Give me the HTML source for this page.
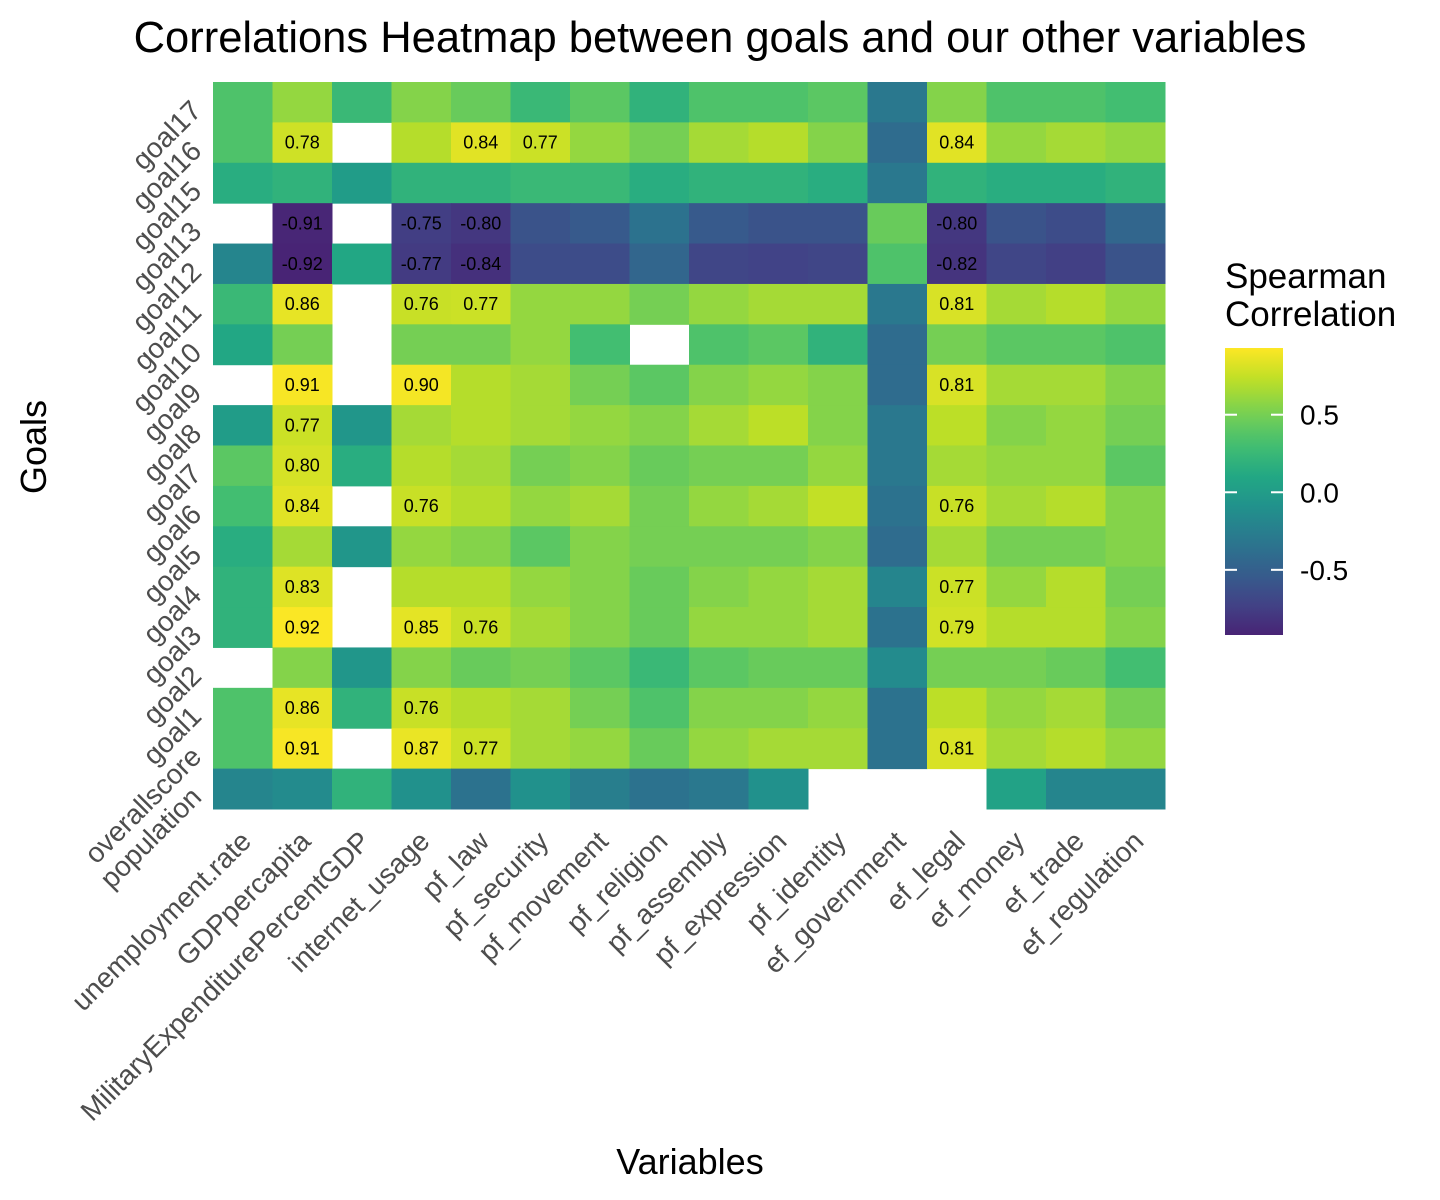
<!DOCTYPE html>
<html><head><meta charset="utf-8"><style>
body{margin:0;background:#fff;}
svg{display:block;font-family:"Liberation Sans",Arial,sans-serif;}
</style></head><body>
<svg id="chart" width="1440" height="1200" viewBox="0 0 1440 1200">
<defs><linearGradient id="vg" x1="0" y1="1" x2="0" y2="0" id2="">
</linearGradient></defs>
<text x="720" y="52" text-anchor="middle" font-size="43.5" fill="#000">Correlations Heatmap between goals and our other variables</text>
<text x="46" y="447" text-anchor="middle" font-size="36" transform="rotate(-90 46 447)">Goals</text>
<text x="690" y="1174" text-anchor="middle" font-size="36">Variables</text>
<g id="cells"></g><g id="xlabels"></g><g id="ylabels"></g>
<g>
<text x="1225" y="288" font-size="35">Spearman</text>
<text x="1225" y="326" font-size="35">Correlation</text>
<rect x="1225" y="348" width="58" height="287" fill="url(#vg)"/>
<g id="legticks"></g>
</g>
</svg>
<script>
const variables=["unemployment.rate","GDPpercapita","MilitaryExpenditurePercentGDP","internet_usage","pf_law","pf_security","pf_movement","pf_religion","pf_assembly","pf_expression","pf_identity","ef_government","ef_legal","ef_money","ef_trade","ef_regulation"];
const goals=["goal17","goal16","goal15","goal13","goal12","goal11","goal10","goal9","goal8","goal7","goal6","goal5","goal4","goal3","goal2","goal1","overallscore","population"];
const values=[
[0.35,0.6,0.25,0.55,0.45,0.25,0.4,0.2,0.35,0.35,0.4,-0.3,0.55,0.35,0.35,0.3],
[0.35,0.78,null,0.7,0.84,0.77,0.6,0.5,0.65,0.7,0.55,-0.4,0.84,0.6,0.65,0.6],
[0.15,0.2,0.0,0.2,0.2,0.25,0.25,0.15,0.2,0.2,0.15,-0.3,0.2,0.15,0.15,0.2],
[null,-0.91,null,-0.75,-0.80,-0.6,-0.55,-0.35,-0.55,-0.6,-0.6,0.45,-0.80,-0.6,-0.65,-0.45],
[-0.2,-0.92,0.1,-0.77,-0.84,-0.65,-0.65,-0.45,-0.7,-0.72,-0.7,0.35,-0.82,-0.7,-0.74,-0.6],
[0.25,0.86,null,0.76,0.77,0.6,0.6,0.5,0.6,0.65,0.65,-0.3,0.81,0.65,0.7,0.6],
[0.1,0.5,null,0.5,0.5,0.6,0.3,null,0.35,0.4,0.2,-0.4,0.5,0.4,0.4,0.35],
[null,0.91,null,0.90,0.7,0.65,0.5,0.4,0.55,0.6,0.55,-0.4,0.81,0.65,0.65,0.55],
[0.0,0.77,-0.05,0.65,0.7,0.65,0.6,0.55,0.65,0.72,0.55,-0.3,0.72,0.55,0.6,0.5],
[0.4,0.80,0.15,0.7,0.65,0.5,0.55,0.45,0.5,0.5,0.6,-0.3,0.65,0.6,0.6,0.4],
[0.3,0.84,null,0.76,0.7,0.6,0.65,0.5,0.6,0.65,0.74,-0.35,0.76,0.65,0.7,0.55],
[0.15,0.65,-0.05,0.6,0.55,0.4,0.55,0.5,0.5,0.5,0.55,-0.4,0.65,0.5,0.5,0.55],
[0.2,0.83,null,0.7,0.7,0.6,0.55,0.45,0.55,0.6,0.65,-0.2,0.77,0.6,0.7,0.5],
[0.2,0.92,null,0.85,0.76,0.65,0.55,0.45,0.6,0.6,0.65,-0.35,0.79,0.7,0.7,0.55],
[null,0.55,-0.05,0.55,0.45,0.5,0.4,0.25,0.4,0.45,0.45,-0.15,0.5,0.5,0.45,0.3],
[0.35,0.86,0.2,0.76,0.7,0.65,0.5,0.35,0.55,0.55,0.6,-0.35,0.72,0.6,0.65,0.5],
[0.35,0.91,null,0.87,0.77,0.65,0.6,0.45,0.6,0.65,0.65,-0.35,0.81,0.65,0.7,0.6],
[-0.2,-0.15,0.2,-0.1,-0.35,-0.1,-0.25,-0.35,-0.3,-0.1,null,null,null,0.05,-0.2,-0.2]
];
const legendTicks=[0.5,0.0,-0.5];
const legendLabels=["0.5","0.0","-0.5"];
const vmin=-0.92,vmax=0.93;
const X0=213,X1=1165,Y0=82,Y1=809;
const cw=(X1-X0)/variables.length, ch=(Y1-Y0)/goals.length;
const xScale=i=>X0+i*cw, yScale=j=>Y0+j*ch;
const stops=["#440154","#482475","#414487","#355f8d","#2a788e","#21918c","#22a884","#44bf70","#7ad151","#bddf26","#fde725"];
function hex(h){return [1,3,5].map(k=>parseInt(h.substr(k,2),16));}
function vir(t){t=Math.max(0,Math.min(1,t));const p=t*(stops.length-1),i=Math.min(Math.floor(p),stops.length-2),f=p-i;const a=hex(stops[i]),b=hex(stops[i+1]);return "rgb("+a.map((c,k)=>Math.round(c+(b[k]-c)*f)).join(",")+")";}
function color(v){const fr=(v-vmin)/(vmax-vmin);return vir(0.1+0.9*fr);}
const NS="http://www.w3.org/2000/svg";
const grad=document.getElementById("vg");
for(let k=0;k<=20;k++){const s=document.createElementNS(NS,"stop");s.setAttribute("offset",k/20);s.setAttribute("stop-color",vir(0.1+0.9*k/20));grad.appendChild(s);}
const cells=document.getElementById("cells");
values.forEach((row,j)=>row.forEach((v,i)=>{
 if(v===null)return;
 const r=document.createElementNS(NS,"rect");
 r.setAttribute("x",xScale(i));r.setAttribute("y",yScale(j));
 r.setAttribute("width",cw+0.5);r.setAttribute("height",ch+0.5);
 r.setAttribute("fill",color(v));
 
 
 cells.appendChild(r);
 if(Math.abs(v)>=0.75){
  const t=document.createElementNS(NS,"text");
  t.setAttribute("x",xScale(i)+cw/2);t.setAttribute("y",yScale(j)+ch/2+6);
  t.setAttribute("text-anchor","middle");t.setAttribute("font-size","18");
  t.textContent=v.toFixed(2);
  
  
  cells.appendChild(t);
 }
}));
const xl=document.getElementById("xlabels");
variables.forEach((n,i)=>{
 const t=document.createElementNS(NS,"text");
 const x=xScale(i)+cw/2+10,y=843;
 t.setAttribute("x",x);t.setAttribute("y",y);t.setAttribute("text-anchor","end");
 t.setAttribute("font-size","28");t.setAttribute("fill","#4d4d4d");
 t.setAttribute("transform","rotate(-45 "+x+" "+y+")");
 t.textContent=n;
 
 
 xl.appendChild(t);
});
const yl=document.getElementById("ylabels");
goals.forEach((n,j)=>{
 const t=document.createElementNS(NS,"text");
 const x=203,y=yScale(j)+ch/2+10;
 t.setAttribute("x",x);t.setAttribute("y",y);t.setAttribute("text-anchor","end");
 t.setAttribute("font-size","28");t.setAttribute("fill","#4d4d4d");
 t.setAttribute("transform","rotate(-45 "+x+" "+y+")");
 t.textContent=n;
 
 
 yl.appendChild(t);
});
const lg=document.getElementById("legticks");
const ly=v=>635-(v-vmin)/(vmax-vmin)*287;
legendTicks.forEach((v,k)=>{
 [1225,1271].forEach(x=>{const l=document.createElementNS(NS,"line");
  l.setAttribute("x1",x);l.setAttribute("x2",x+12);l.setAttribute("y1",ly(v));l.setAttribute("y2",ly(v));
  l.setAttribute("stroke","#fff");l.setAttribute("stroke-width","2");
  
  
  lg.appendChild(l);});
 const t=document.createElementNS(NS,"text");
 t.setAttribute("x",1300);t.setAttribute("y",ly(v)+10);t.setAttribute("font-size","28");
 t.textContent=legendLabels[k];
 
 
 lg.appendChild(t);
});
</script>
</body></html>
